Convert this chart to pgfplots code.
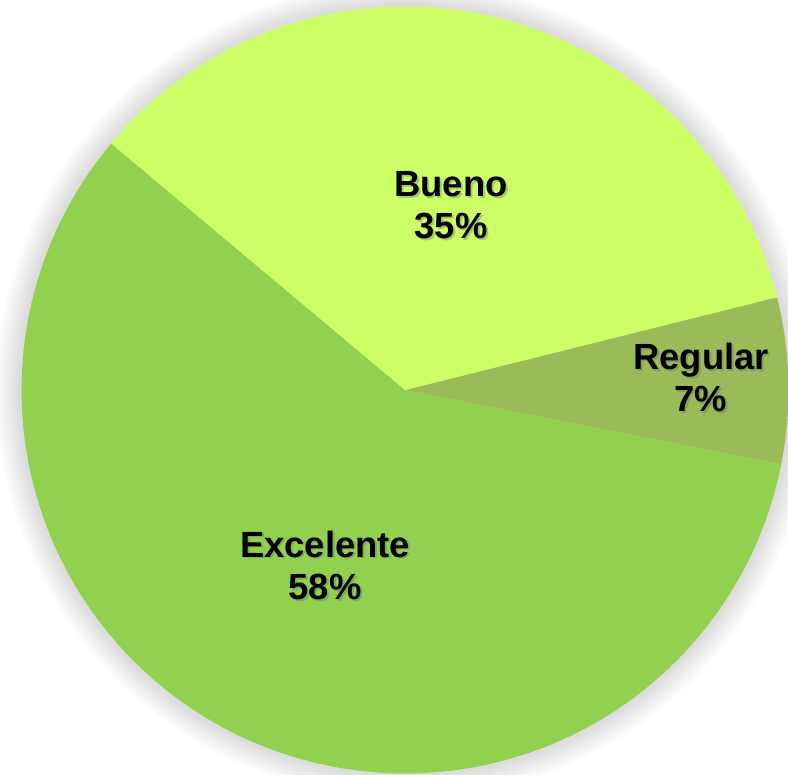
\documentclass[border=0pt]{standalone}
\usepackage{pgfplots}
\pgfplotsset{compat=1.18}
\usepackage{pgfplotstable}
\usepackage{fontspec}
\setmainfont{Liberation Sans}
\definecolor{cExc}{HTML}{92D050}
\definecolor{cReg}{HTML}{9BBB59}
\definecolor{cBue}{HTML}{CCFF66}
\pgfplotstableread{
label value
Excelente 58
Regular 7
Bueno 35
}\piedata
\def\R{383.5}
\begin{document}
\begin{tikzpicture}
\pgfplotstablegetelem{0}{value}\of\piedata\let\vA\pgfplotsretval
\pgfplotstablegetelem{1}{value}\of\piedata\let\vB\pgfplotsretval
\pgfplotstablegetelem{2}{value}\of\piedata\let\vC\pgfplotsretval
\pgfmathsetmacro{\aA}{140}
\pgfmathsetmacro{\aB}{\aA+3.6*\vA}
\pgfmathsetmacro{\aC}{\aB+3.6*\vB}
\pgfmathsetmacro{\aD}{\aC+3.6*\vC}
\begin{axis}[
  hide axis, scale only axis,
  width=394pt, height=387.5pt,
  xmin=-405, xmax=383, ymin=-385, ymax=390,
  clip=true,
]
\pgfplotsinvokeforeach{1,...,9}{
  \addplot[fill=black, fill opacity=0.017, draw=none, domain=0:360, samples=180]
    ({(\R+2.8*#1)*cos(x)},{(\R+2.8*#1)*sin(x)}) -- cycle;
}
\addplot[fill=cExc, draw=none, domain=\aA:\aB, samples=120]
  ({\R*cos(x)},{\R*sin(x)}) -- (axis cs:0,0) -- cycle;
\addplot[fill=cReg, draw=none, domain=\aB:\aC, samples=30]
  ({\R*cos(x)},{\R*sin(x)}) -- (axis cs:0,0) -- cycle;
\addplot[fill=cBue, draw=none, domain=\aC:\aD, samples=90]
  ({\R*cos(x)},{\R*sin(x)}) -- (axis cs:0,0) -- cycle;
\node[align=center, font=\fontsize{18.2}{21}\selectfont\bfseries, text=black!60, opacity=0.35] at (axis cs:48,183) {Bueno\\35\%};
\node[align=center, font=\fontsize{18.2}{21}\selectfont\bfseries] at (axis cs:46,185) {Bueno\\35\%};
\node[align=center, font=\fontsize{18.2}{21}\selectfont\bfseries, text=black!60, opacity=0.35] at (axis cs:298,11) {Regular\\7\%};
\node[align=center, font=\fontsize{18.2}{21}\selectfont\bfseries] at (axis cs:296,13) {Regular\\7\%};
\node[align=center, font=\fontsize{18.2}{21}\selectfont\bfseries, text=black!60, opacity=0.35] at (axis cs:-78,-177) {Excelente\\58\%};
\node[align=center, font=\fontsize{18.2}{21}\selectfont\bfseries] at (axis cs:-80,-175) {Excelente\\58\%};
\end{axis}
\pgfresetboundingbox
\useasboundingbox (current axis.south west) rectangle (current axis.north east);
\end{tikzpicture}
\end{document}
